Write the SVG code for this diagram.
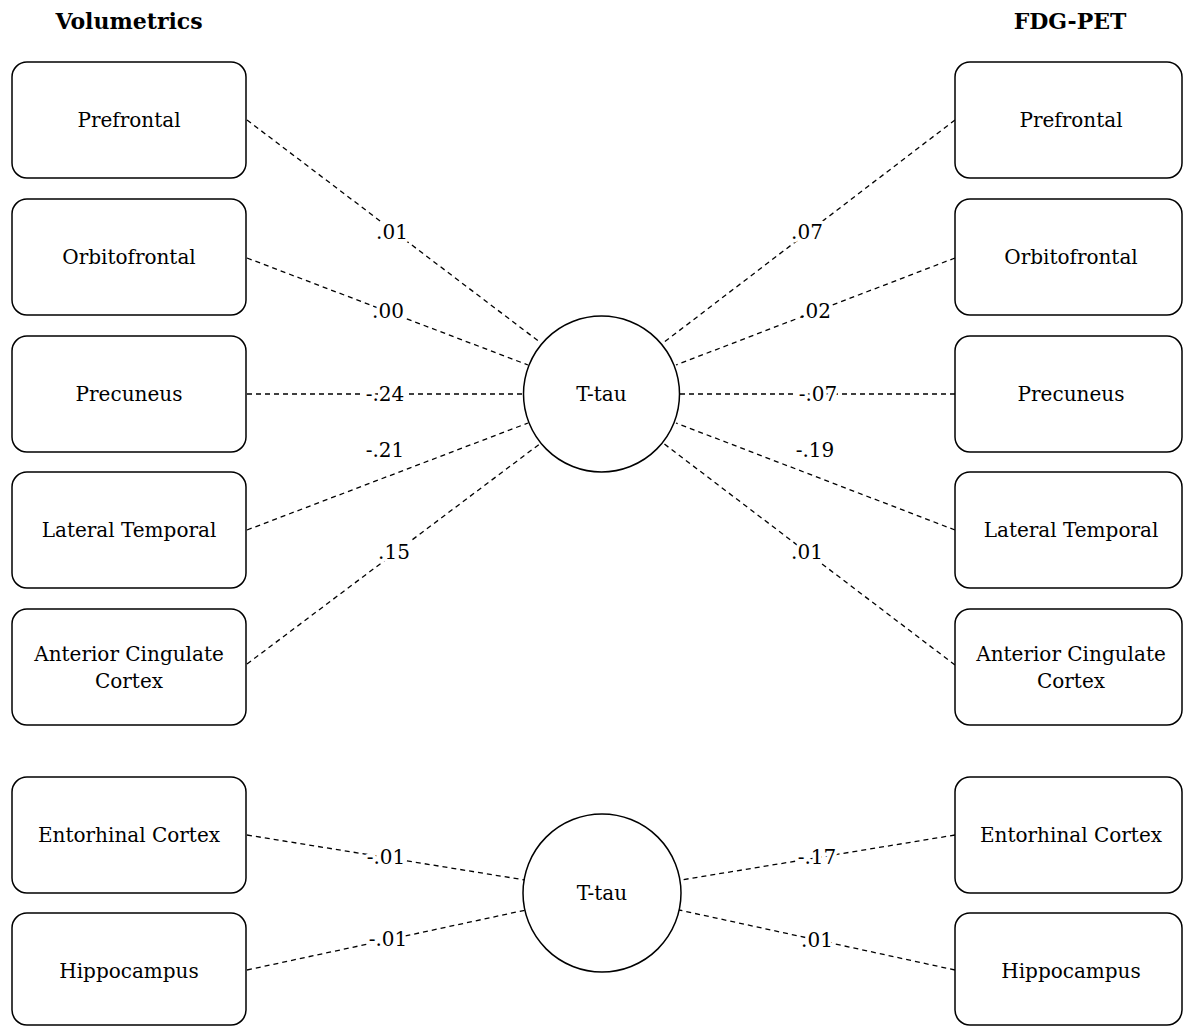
<svg xmlns="http://www.w3.org/2000/svg" width="1183" height="1026" viewBox="0 0 1183 1026">
<style>
  text { font-family: "DejaVu Serif", "Liberation Serif", serif; font-size: 20px; fill: #000; text-anchor: middle; }
  .title { font-weight: bold; font-size: 22px; }
  .box { fill: #fff; stroke: #000; stroke-width: 1.5; }
  .circ { fill: #fff; stroke: #000; stroke-width: 1.5; }
  .edge { stroke: #000; stroke-width: 1.3; stroke-dasharray: 5 4; fill: none; }
  .lbl { stroke: #fff; stroke-width: 7; paint-order: stroke; stroke-linejoin: round; }
</style>
<rect width="1183" height="1026" fill="#fff"/>
<text class="title" x="129" y="29">Volumetrics</text>
<text class="title" x="1070" y="29">FDG-PET</text>

<g id="connectors">
  <line class="edge" x1="247" y1="120" x2="541" y2="343"/>
  <line class="edge" x1="247" y1="258" x2="528" y2="365"/>
  <line class="edge" x1="247" y1="394" x2="523" y2="394"/>
  <line class="edge" x1="247" y1="530" x2="528" y2="423"/>
  <line class="edge" x1="247" y1="664" x2="541" y2="443"/>
  <line class="edge" x1="955" y1="120" x2="663" y2="343"/>
  <line class="edge" x1="955" y1="258" x2="676" y2="365"/>
  <line class="edge" x1="955" y1="394" x2="680" y2="394"/>
  <line class="edge" x1="955" y1="530" x2="676" y2="423"/>
  <line class="edge" x1="955" y1="665" x2="663" y2="443"/>
  <line class="edge" x1="247" y1="835" x2="525" y2="880"/>
  <line class="edge" x1="247" y1="970" x2="526" y2="910"/>
  <line class="edge" x1="955" y1="835" x2="681" y2="880"/>
  <line class="edge" x1="955" y1="970" x2="679" y2="910"/>
  <text class="lbl" x="392" y="239">.01</text>
  <text class="lbl" x="388" y="318">.00</text>
  <text class="lbl" x="385" y="401">-.24</text>
  <text class="lbl" x="385" y="457">-.21</text>
  <text class="lbl" x="394" y="559">.15</text>
  <text class="lbl" x="807" y="239">.07</text>
  <text class="lbl" x="815" y="318">.02</text>
  <text class="lbl" x="818" y="401">-.07</text>
  <text class="lbl" x="815" y="457">-.19</text>
  <text class="lbl" x="807" y="559">.01</text>
  <text class="lbl" x="386" y="864">-.01</text>
  <text class="lbl" x="388" y="946">-.01</text>
  <text class="lbl" x="817" y="864">-.17</text>
  <text class="lbl" x="817" y="947">.01</text>
</g>

<g id="vol-prefrontal"><rect class="box" x="12" y="62" width="234" height="116" rx="15"/><text x="129" y="127">Prefrontal</text></g>
<g id="vol-orbitofrontal"><rect class="box" x="12" y="199" width="234" height="116" rx="15"/><text x="129" y="264">Orbitofrontal</text></g>
<g id="vol-precuneus"><rect class="box" x="12" y="336" width="234" height="116" rx="15"/><text x="129" y="401">Precuneus</text></g>
<g id="vol-lateral-temporal"><rect class="box" x="12" y="472" width="234" height="116" rx="15"/><text x="129" y="537">Lateral Temporal</text></g>
<g id="vol-acc"><rect class="box" x="12" y="609" width="234" height="116" rx="15"/><text x="129" y="661">Anterior Cingulate</text><text x="129" y="688">Cortex</text></g>
<g id="vol-entorhinal"><rect class="box" x="12" y="777" width="234" height="116" rx="15"/><text x="129" y="842">Entorhinal Cortex</text></g>
<g id="vol-hippocampus"><rect class="box" x="12" y="913" width="234" height="112" rx="15"/><text x="129" y="978">Hippocampus</text></g>

<g id="pet-prefrontal"><rect class="box" x="955" y="62" width="227" height="116" rx="15"/><text x="1071" y="127">Prefrontal</text></g>
<g id="pet-orbitofrontal"><rect class="box" x="955" y="199" width="227" height="116" rx="15"/><text x="1071" y="264">Orbitofrontal</text></g>
<g id="pet-precuneus"><rect class="box" x="955" y="336" width="227" height="116" rx="15"/><text x="1071" y="401">Precuneus</text></g>
<g id="pet-lateral-temporal"><rect class="box" x="955" y="472" width="227" height="116" rx="15"/><text x="1071" y="537">Lateral Temporal</text></g>
<g id="pet-acc"><rect class="box" x="955" y="609" width="227" height="116" rx="15"/><text x="1071" y="661">Anterior Cingulate</text><text x="1071" y="688">Cortex</text></g>
<g id="pet-entorhinal"><rect class="box" x="955" y="777" width="227" height="116" rx="15"/><text x="1071" y="842">Entorhinal Cortex</text></g>
<g id="pet-hippocampus"><rect class="box" x="955" y="913" width="227" height="112" rx="15"/><text x="1071" y="978">Hippocampus</text></g>

<g id="ttau-1"><circle class="circ" cx="601.5" cy="394" r="78"/><text x="601.5" y="401">T-tau</text></g>
<g id="ttau-2"><circle class="circ" cx="602" cy="893" r="79"/><text x="602" y="900">T-tau</text></g>
</svg>
